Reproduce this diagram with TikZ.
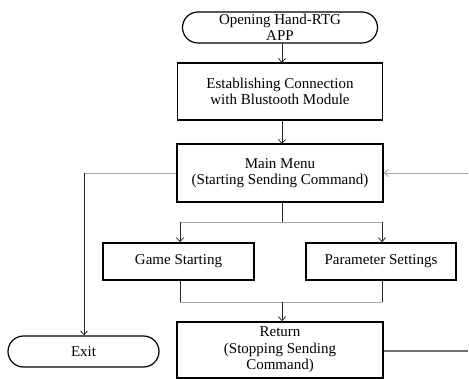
\documentclass[tikz,border=0pt]{standalone}
\usepackage{fontspec}
\setmainfont{Liberation Serif}
\usetikzlibrary{shapes.misc,arrows.meta}
\begin{document}
\begin{tikzpicture}[x=1pt,y=-1pt,
  every node/.style={font=\fontsize{15}{16.5}\selectfont},
  proc/.style={draw=black,line width=1.4pt,inner sep=0pt,align=center},
  term/.style={draw=black,line width=1.2pt,rounded rectangle,inner sep=0pt,align=center},
  conn/.style={draw=black!85,line width=0.8pt},
  gconn/.style={draw=black!35,line width=0.9pt},
  arr/.style={-{Straight Barb[length=4pt,width=7pt]}}]
\useasboundingbox (0,0) rectangle (469,379);
\node[term,minimum width=195pt,minimum height=31pt] (open) at (280,27.5) {Opening Hand-RTG\\APP};
\node[proc,minimum width=205pt,minimum height=57pt] (conn) at (280,91.5) {Establishing Connection\\with Blustooth Module};
\node[proc,minimum width=206pt,minimum height=58pt] (menu) at (280,173) {Main Menu\\(Starting Sending Command)};
\node[proc,minimum width=151pt,minimum height=37pt] (game) at (178.5,261.5) {Game Starting};
\node[proc,minimum width=150pt,minimum height=37pt] (param) at (381,261.5) {Parameter Settings};
\node[proc,minimum width=206pt,minimum height=56pt] (ret) at (280,350) {Return\\(Stopping Sending\\Command)};
\node[term,minimum width=151pt,minimum height=31pt] (exit) at (83.5,351.5) {Exit};
\coordinate (split) at (282,222);
\coordinate (gsplitL) at (180,222);
\coordinate (gsplitR) at (382,222);
\coordinate (joinL) at (180,302);
\coordinate (joinR) at (382,302);
\coordinate (join) at (282,302);
\coordinate (rin) at (468,173);
\coordinate (rout) at (468,351);
\coordinate (lcorner) at (84,173);
\draw[conn,arr] (282,43) -- (282,63);
\draw[conn,arr] (282,120) -- (282,144);
\draw[conn] (menu.south -| split) -- (split);
\draw[gconn] (gsplitL) -- (gsplitR);
\draw[conn,arr] (gsplitL) -- (gsplitL |- game.north);
\draw[conn,arr] (gsplitR) -- (gsplitR |- param.north);
\draw[conn] (game.south -| joinL) -- (joinL);
\draw[conn] (param.south -| joinR) -- (joinR);
\draw[gconn] (joinL) -- (joinR);
\draw[conn,arr] (join) -- (join |- ret.north);
\draw[gconn] (menu.west |- lcorner) -- (lcorner);
\draw[conn,arr] (lcorner) -- (lcorner |- exit.north);
\draw[gconn,arr] (rin) -- (menu.east |- rin);
\draw[draw=black!55,line width=1.2pt] (ret.east |- rout) -- (rout);
\end{tikzpicture}
\end{document}
